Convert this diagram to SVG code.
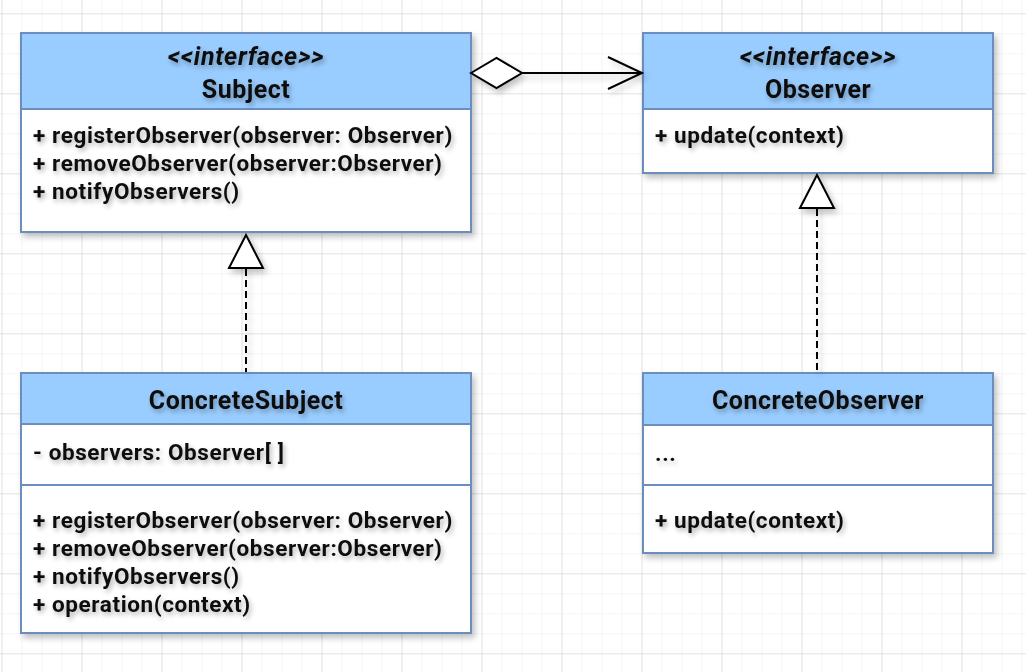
<svg xmlns="http://www.w3.org/2000/svg" width="1026" height="672" viewBox="0 0 1026 672">
<defs>
  <pattern id="minor" x="1.5" y="13.3" width="20" height="20" patternUnits="userSpaceOnUse">
    <path d="M0 0H20M0 0V20" fill="none" stroke="#ececec" stroke-width="1"/>
  </pattern>
  <pattern id="major" x="1.5" y="13.3" width="80" height="80" patternUnits="userSpaceOnUse">
    <path d="M0 0H80M0 0V80" fill="none" stroke="#d3d3d3" stroke-width="1"/>
  </pattern>
  <filter id="shadow" x="-10%" y="-10%" width="130%" height="130%">
    <feGaussianBlur in="SourceAlpha" stdDeviation="3"/>
    <feOffset dx="3" dy="4" result="b"/>
    <feComponentTransfer><feFuncA type="linear" slope="0.25"/></feComponentTransfer>
    <feMerge><feMergeNode/><feMergeNode in="SourceGraphic"/></feMerge>
  </filter>
  <filter id="tshadow" x="-10%" y="-30%" width="130%" height="180%">
    <feGaussianBlur in="SourceAlpha" stdDeviation="2.5"/>
    <feOffset dx="2" dy="3" result="b"/>
    <feComponentTransfer><feFuncA type="linear" slope="0.3"/></feComponentTransfer>
    <feMerge><feMergeNode/><feMergeNode in="SourceGraphic"/></feMerge>
  </filter>
</defs>
<style>
  .body{fill:#ffffff;stroke:#6c8ebf;stroke-width:2}
  .head{fill:#99ccff;stroke:#6c8ebf;stroke-width:2}
  .sep{stroke:#6c8ebf;stroke-width:2}
  text{font-family:Roboto,"Liberation Sans",sans-serif;font-weight:bold;fill:#111111}
  .title{font-size:25px;letter-spacing:0.5px;text-anchor:middle}
  .stereo{font-size:25px;letter-spacing:0.7px;font-style:italic;text-anchor:middle}
  .item{font-size:22.5px;letter-spacing:0.6px}
  .line{fill:none;stroke:#000;stroke-width:2}
  .dash{fill:none;stroke:#000;stroke-width:2;stroke-dasharray:7 4}
  .tri{fill:#fff;stroke:#000;stroke-width:2}
</style>
<rect width="1026" height="672" fill="#ffffff"/>
<rect width="1026" height="672" fill="url(#minor)"/>
<rect width="1026" height="672" fill="url(#major)"/>

<g id="Subject">
  <g filter="url(#shadow)">
    <rect class="body" x="21" y="33" width="450" height="199"/>
    <rect class="head" x="21" y="33" width="450" height="76"/>
  </g>
  <g filter="url(#tshadow)">
    <text class="stereo" x="246" y="65">&lt;&lt;interface&gt;&gt;</text>
    <text class="title" x="246" y="98">Subject</text>
    <text class="item" x="33" y="143">+ registerObserver(observer: Observer)</text>
    <text class="item" x="33" y="171">+ removeObserver(observer:Observer)</text>
    <text class="item" x="33" y="199">+ notifyObservers()</text>
  </g>
</g>

<g id="Observer">
  <g filter="url(#shadow)">
    <rect class="body" x="643" y="33" width="350" height="140"/>
    <rect class="head" x="643" y="33" width="350" height="76"/>
  </g>
  <g filter="url(#tshadow)">
    <text class="stereo" x="818" y="65">&lt;&lt;interface&gt;&gt;</text>
    <text class="title" x="818" y="98">Observer</text>
    <text class="item" x="655" y="143">+ update(context)</text>
  </g>
</g>

<g id="ConcreteSubject">
  <g filter="url(#shadow)">
    <rect class="body" x="21" y="373" width="450" height="260"/>
    <rect class="head" x="21" y="373" width="450" height="51"/>
    <line class="sep" x1="21" y1="485" x2="471" y2="485"/>
  </g>
  <g filter="url(#tshadow)">
    <text class="title" x="246" y="409">ConcreteSubject</text>
    <text class="item" x="33" y="460">- observers: Observer[ ]</text>
    <text class="item" x="33" y="528">+ registerObserver(observer: Observer)</text>
    <text class="item" x="33" y="556">+ removeObserver(observer:Observer)</text>
    <text class="item" x="33" y="584">+ notifyObservers()</text>
    <text class="item" x="33" y="612">+ operation(context)</text>
  </g>
</g>

<g id="ConcreteObserver">
  <g filter="url(#shadow)">
    <rect class="body" x="643" y="373" width="350" height="180"/>
    <rect class="head" x="643" y="373" width="350" height="52"/>
    <line class="sep" x1="643" y1="485" x2="993" y2="485"/>
  </g>
  <g filter="url(#tshadow)">
    <text class="title" x="818" y="409">ConcreteObserver</text>
    <text class="item" x="655" y="461">...</text>
    <text class="item" x="655" y="528">+ update(context)</text>
  </g>
</g>

<g id="connectors" filter="url(#shadow)">
  <path class="line" d="M522 73H642"/>
  <path class="tri" d="M471 73L496.5 58L522 73L496.5 88Z"/>
  <path class="line" d="M608 57L642 73L608 89"/>
  <path class="dash" d="M246 269V372"/>
  <path class="tri" d="M246 235L263 268H229Z"/>
  <path class="dash" d="M817 209V372"/>
  <path class="tri" d="M817 175L834 208H800Z"/>
</g>
</svg>
